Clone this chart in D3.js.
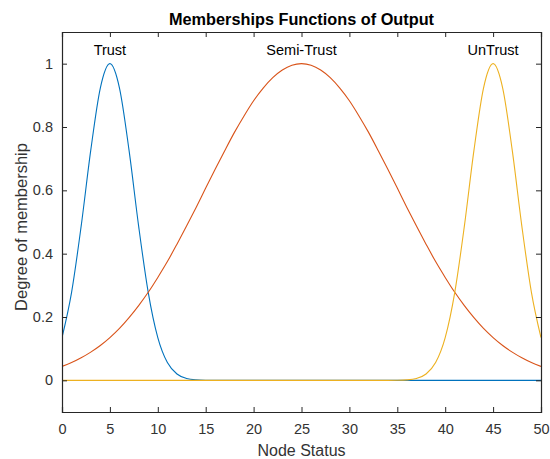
<!DOCTYPE html>
<html>
<head>
<meta charset="utf-8">
<script src="https://cdn.jsdelivr.net/npm/d3@7"></script>
<style>
  body { margin: 0; background: #fff; }
  text { font-family: "Liberation Sans", Arial, sans-serif; }
</style>
</head>
<body>
<svg id="chart" width="550" height="459"></svg>
<script>
const xs = [0,1,2,3,4,5,6,7,8,9,10,11,12,13,14,15,16,17,18,19,20,21,22,23,24,25,
            26,27,28,29,30,31,32,33,34,35,36,37,38,39,40,41,42,43,44,45,46,47,48,49,50];

const trust = [0.135,0.278,0.487,0.726,0.923,1,0.923,0.726,0.487,0.278,0.135,0.056,0.020,0.006,0.0015,0.0003,
               0,0,0,0,0,0,0,0,0,0,0,0,0,0,0,0,0,0,0,0,0,0,0,0,0,0,0,0,0,0,0,0,0,0,0];

const semiTrust = [0.044,0.056,0.071,0.089,0.110,0.135,0.164,0.198,0.236,0.278,0.325,0.375,0.430,0.487,0.546,0.607,
                   0.667,0.726,0.783,0.835,0.883,0.923,0.956,0.980,0.995,1,0.995,0.980,0.956,0.923,0.883,0.835,
                   0.783,0.726,0.667,0.607,0.546,0.487,0.430,0.375,0.325,0.278,0.236,0.198,0.164,0.135,0.110,
                   0.089,0.071,0.056,0.044];

const unTrust = [0,0,0,0,0,0,0,0,0,0,0,0,0,0,0,0,0,0,0,0,0,0,0,0,0,0,0,0,0,0,0,0,0,0,0,
                 0.0003,0.0015,0.006,0.020,0.056,0.135,0.278,0.487,0.726,0.923,1,0.923,0.726,0.487,0.278,0.135];

const mfNames = ["Trust", "Semi-Trust", "UnTrust"];
const mfPeaks = [5, 25, 45];
const mfColors = ["#0072BD", "#D95319", "#EDB120"];

const xTicks = [0,5,10,15,20,25,30,35,40,45,50];
const yTicks = [0,0.2,0.4,0.6,0.8,1];

const svg = d3.select("#chart");
const pLeft = 62, pRight = 541, pTop = 32, pBottom = 412;

const x = d3.scaleLinear().domain([0, 50]).range([pLeft, pRight]);
const y = d3.scaleLinear().domain([-0.1, 1.1]).range([pBottom, pTop]);

svg.append("rect").attr("width", 550).attr("height", 459).attr("fill", "#fff");

// curves, blue first so yellow ends up on top at y=0
const line = d3.line()
    .x((d, i) => x(xs[i]))
    .y(d => y(d))
    .curve(d3.curveMonotoneX);

svg.append("clipPath").attr("id", "clip")
    .append("rect").attr("x", pLeft).attr("y", pTop).attr("width", pRight - pLeft).attr("height", pBottom - pTop);
const g = svg.append("g").attr("clip-path", "url(#clip)");

[trust, semiTrust, unTrust].forEach((s, i) => {
    g.append("path")
        .attr("d", line(s))
        .attr("fill", "none")
        .attr("stroke", mfColors[i])
        .attr("stroke-width", 1.1);
});

// labels above each peak
svg.selectAll(".mf-label").data(mfNames).enter().append("text")
    .attr("class", "mf-label")
    .attr("x", (d, i) => x(mfPeaks[i]))
    .attr("y", 55)
    .attr("text-anchor", "middle")
    .attr("font-size", 14.5)
    .attr("fill", "#000")
    .text(d => d);

// axes, MATLAB style box with inward ticks
const axisColor = "#262626";
const labelColor = "#333";
const bottomAxis = d3.axisBottom(x).tickValues(xTicks).tickSize(-5).tickPadding(12);
const leftAxis = d3.axisLeft(y).tickValues(yTicks).tickSize(-5).tickPadding(9).tickFormat(d3.format("~g"));
const topAxis = d3.axisTop(x).tickValues(xTicks).tickSize(-5).tickFormat("");
const rightAxis = d3.axisRight(y).tickValues(yTicks).tickSize(-5).tickFormat("");

function style(sel) {
    sel.selectAll("path, line").attr("stroke", axisColor);
    sel.selectAll("text").attr("fill", labelColor)
        .attr("font-family", "Liberation Sans, Arial, sans-serif")
        .attr("font-size", 14.5);
}

svg.append("g").attr("transform", `translate(0,${pBottom})`).call(bottomAxis).call(style);
svg.append("g").attr("transform", `translate(${pLeft},0)`).call(leftAxis).call(style);
svg.append("g").attr("transform", `translate(0,${pTop})`).call(topAxis).call(style);
svg.append("g").attr("transform", `translate(${pRight},0)`).call(rightAxis).call(style);
svg.selectAll(".domain").attr("stroke-width", 1.2);

// titles
svg.append("text")
    .attr("x", (pLeft + pRight) / 2)
    .attr("y", 25)
    .attr("text-anchor", "middle")
    .attr("font-size", 16.3)
    .attr("font-weight", "bold")
    .attr("fill", "#000")
    .text("Memberships Functions of Output");

svg.append("text")
    .attr("x", (pLeft + pRight) / 2)
    .attr("y", 456)
    .attr("text-anchor", "middle")
    .attr("font-size", 16)
    .attr("fill", labelColor)
    .text("Node Status");

svg.append("text")
    .attr("transform", `translate(27,${(pTop + pBottom) / 2 + 5}) rotate(-90)`)
    .attr("text-anchor", "middle")
    .attr("font-size", 16.5)
    .attr("fill", labelColor)
    .text("Degree of membership");
</script>
</body>
</html>
